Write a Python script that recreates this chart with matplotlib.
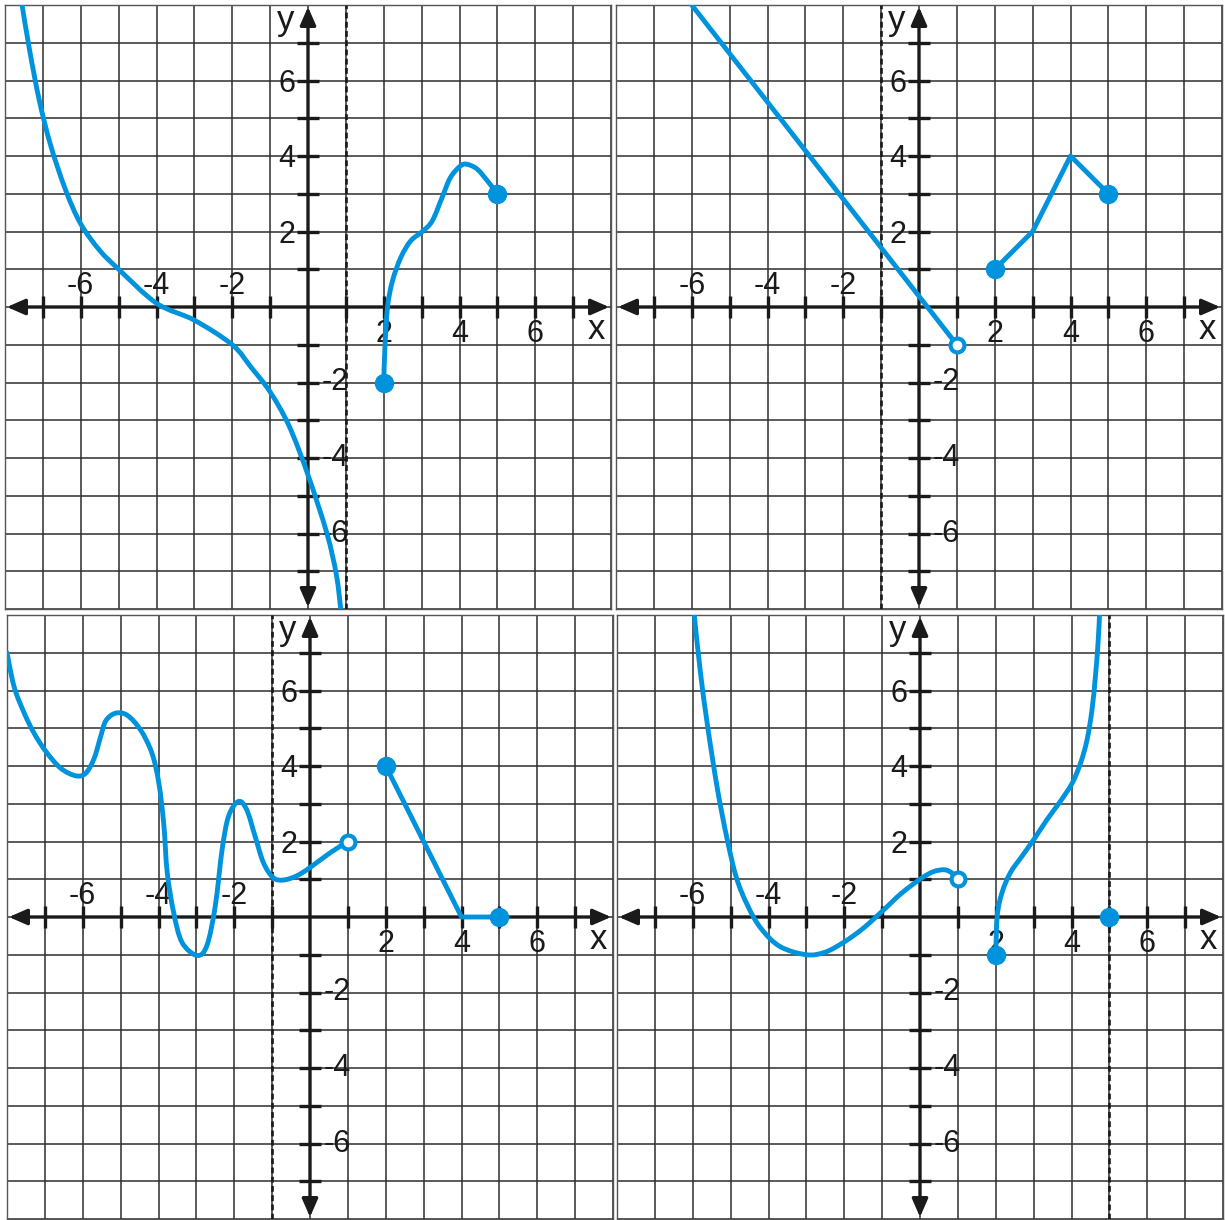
import numpy as np
import matplotlib
matplotlib.use("Agg")
import matplotlib.pyplot as plt
from matplotlib.path import Path
from matplotlib.patches import PathPatch

plt.rcParams['font.family'] = ['Liberation Sans', 'DejaVu Sans']

# ---- data ----
# top left
p1_left_x = [-7.55, -7.35, -7.1, -6.8, -6.4, -6.0, -5.5, -5.0, -4.0, -3.0, -2.0, -1.5, -1.0,
             -0.5, 0.0, 0.5, 0.75, 0.87]
p1_left_y = [8.0, 6.8, 5.5, 4.3, 3.1, 2.2, 1.5, 1.0, 0.1, -0.35, -1.0, -1.6, -2.25,
             -3.15, -4.45, -6.0, -7.1, -8.05]
p1_right_x = [2.0, 2.03, 2.1, 2.23, 2.45, 2.71, 3.02, 3.28, 3.54, 3.76, 4.03, 4.2, 4.47, 4.77, 5.0]
p1_right_y = [-2.0, -1.08, 0.0, 0.69, 1.31, 1.75, 2.0, 2.28, 2.9, 3.43, 3.74, 3.78, 3.65, 3.3, 3.0]
p1_filled = [(2, -2), (5, 3)]
p1_open = []
p1_asym = 1

# top right
p2_line_x = [-6, 1]
p2_line_y = [8, -1]
p2_seg_x = [2, 3, 4, 5]
p2_seg_y = [1, 2, 4, 3]
p2_filled = [(2, 1), (5, 3)]
p2_open = [(1, -1)]
p2_asym = -1

# bottom left
p3_left_x = [-8.0, -7.81, -7.54, -7.28, -6.97, -6.58, -6.18, -5.92, -5.7, -5.53, -5.39, -5.13,
             -4.82, -4.47, -4.17, -3.99, -3.86, -3.77, -3.6, -3.38, -2.98, -2.72, -2.5, -2.32,
             -2.15, -1.89, -1.67, -1.45, -1.23, -0.97, -0.7, -0.35, 0.0, 0.53, 1.0]
p3_left_y = [7.0, 6.09, 5.39, 4.86, 4.38, 3.94, 3.74, 3.81, 4.2, 4.77, 5.2, 5.4,
             5.34, 4.95, 4.33, 3.54, 2.45, 1.18, 0.12, -0.67, -1.02, -0.75, 0.3, 1.79,
             2.67, 3.06, 2.84, 2.14, 1.44, 1.04, 0.98, 1.09, 1.31, 1.7, 2.0]
p3_seg_x = [2, 4, 5]
p3_seg_y = [4, 0, 0]
p3_filled = [(2, 4), (5, 0)]
p3_open = [(1, 2)]
p3_asym = -1

# bottom right
p4_left_x = [-5.96, -5.8, -5.6, -5.35, -5.1, -4.85, -4.55, -4.2, -3.7, -3.0, -2.5, -2.0,
             -1.5, -1.0, -0.5, 0.0, 0.35, 0.65, 0.85, 1.0]
p4_left_y = [8.0, 6.5, 5.0, 3.4, 2.1, 1.05, 0.3, -0.3, -0.78, -1.0, -0.93, -0.66,
             -0.3, 0.15, 0.62, 1.0, 1.2, 1.25, 1.16, 1.0]
p4_right_x = [2.0, 2.04, 2.17, 2.39, 2.7, 3.01, 3.36, 3.71, 4.02, 4.24, 4.41, 4.54, 4.63, 4.7, 4.74]
p4_right_y = [-1.0, 0.04, 0.66, 1.18, 1.62, 2.06, 2.59, 3.07, 3.55, 4.08, 4.69, 5.48, 6.36, 7.24, 8.0]
p4_filled = [(2, -1), (5, 0)]
p4_open = [(1, 1)]
p4_asym = 5

tick_labels = [-6, -4, -2, 2, 4, 6]

BLUE = '#0093dd'
GRID = '#2e2e2e'
INK = '#1a1a1a'


def smooth_curve(ax, xs, ys):
    # catmull-rom through the read points, drawn as bezier path
    P = np.column_stack([xs, ys]).astype(float)
    n = len(P)
    verts = [P[0]]
    codes = [Path.MOVETO]
    for i in range(n - 1):
        p0 = P[i - 1] if i > 0 else P[i]
        p1 = P[i]
        p2 = P[i + 1]
        p3 = P[i + 2] if i + 2 < n else P[i + 1]
        verts += [p1 + (p2 - p0) / 6, p2 - (p3 - p1) / 6, p2]
        codes += [Path.CURVE4] * 3
    patch = PathPatch(Path(verts, codes), fill=False, edgecolor=BLUE, lw=3.5,
                      capstyle='round', joinstyle='round', zorder=6)
    ax.add_patch(patch)


def setup(ax, asym):
    ax.set_xlim(-8, 8)
    ax.set_ylim(-8, 8)
    ax.set_xticks(range(-8, 9))
    ax.set_yticks(range(-8, 9))
    ax.tick_params(length=0, labelbottom=False, labelleft=False)
    ax.grid(True, color=GRID, lw=1.1)
    for s in ax.spines.values():
        s.set_color('#555555')
        s.set_linewidth(1.0)
    # dashed asymptote
    ax.axvline(asym, color=INK, lw=1.9, ls=(0, (2.2, 1.3)), zorder=3)
    # axes with arrows
    arr = dict(arrowstyle='<|-|>,head_length=0.55,head_width=0.24', color=INK, lw=2.4,
               shrinkA=0, shrinkB=0, mutation_scale=20)
    ax.annotate('', xy=(7.95, 0), xytext=(-7.95, 0), arrowprops=arr, zorder=4)
    ax.annotate('', xy=(0, 7.95), xytext=(0, -7.95), arrowprops=arr, zorder=4)
    ticks = [k for k in range(-7, 8) if k != 0]
    ax.vlines(ticks, -0.29, 0.29, color=INK, lw=2.4, zorder=4)
    ax.hlines(ticks, -0.29, 0.29, color=INK, lw=2.4, zorder=4)
    for t in tick_labels:
        if t < 0:
            ax.text(t, 0.55, str(t), ha='center', va='center', fontsize=22, color=INK, zorder=5)
            ax.text(0.36, t, str(t), ha='left', va='center', fontsize=22, color=INK, zorder=5)
        else:
            ax.text(t, -0.72, str(t), ha='center', va='center', fontsize=22, color=INK, zorder=5)
            ax.text(-0.34, t - 0.08, str(t), ha='right', va='center', fontsize=22, color=INK, zorder=5)
    ax.text(7.6, -0.6, 'x', ha='center', va='center', fontsize=25, color=INK, zorder=5)
    ax.text(-0.6, 7.58, 'y', ha='center', va='center', fontsize=25, color=INK, zorder=5)


def dots(ax, filled, opened):
    for (x, y) in filled:
        ax.plot(x, y, 'o', color=BLUE, ms=13, zorder=7)
    for (x, y) in opened:
        ax.plot(x, y, 'o', mfc='white', mec=BLUE, mew=3, ms=10, zorder=7)


fig = plt.figure(figsize=(12.25, 12.2), dpi=100)
W, H = 1225, 1220


def panel(x0, ytop):
    return fig.add_axes([x0 / W, (H - ytop - 604) / H, 606 / W, 604 / H])


ax1 = panel(5, 5)
ax2 = panel(616, 5)
ax3 = panel(7, 615)
ax4 = panel(617, 615)

setup(ax1, p1_asym)
smooth_curve(ax1, p1_left_x, p1_left_y)
smooth_curve(ax1, p1_right_x, p1_right_y)
dots(ax1, p1_filled, p1_open)

setup(ax2, p2_asym)
ax2.plot(p2_line_x, p2_line_y, color=BLUE, lw=3.5, zorder=6)
ax2.plot(p2_seg_x, p2_seg_y, color=BLUE, lw=3.5, zorder=6)
dots(ax2, p2_filled, p2_open)

setup(ax3, p3_asym)
smooth_curve(ax3, p3_left_x, p3_left_y)
ax3.plot(p3_seg_x, p3_seg_y, color=BLUE, lw=3.5, zorder=6)
dots(ax3, p3_filled, p3_open)

setup(ax4, p4_asym)
smooth_curve(ax4, p4_left_x, p4_left_y)
smooth_curve(ax4, p4_right_x, p4_right_y)
dots(ax4, p4_filled, p4_open)

fig.savefig('out.png', dpi=100)
